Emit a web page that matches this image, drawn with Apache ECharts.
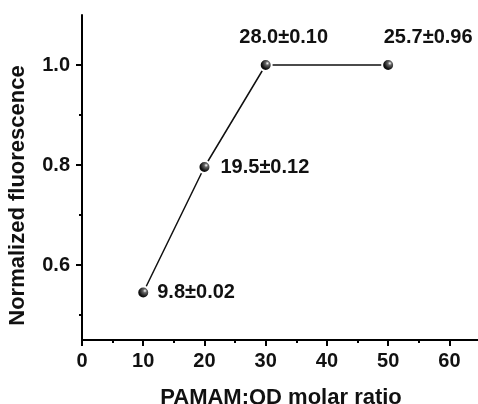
<!DOCTYPE html>
<html>
<head>
<meta charset="utf-8">
<script src="https://cdn.jsdelivr.net/npm/echarts@6/dist/echarts.min.js"></script>
<style>
  html, body { margin: 0; padding: 0; background: #fff; }
  #main { width: 478px; height: 404px; }
</style>
</head>
<body>
<div id="main"></div>
<script>
// data
var ratios = [10, 20, 30, 50];
var fluorescence = [0.545, 0.796, 1.0, 1.0];
var pointLabels = ['9.8±0.02', '19.5±0.12', '28.0±0.10', '25.7±0.96'];
var xMajorTicks = [0, 10, 20, 30, 40, 50, 60];
var xMinorTicks = [5, 15, 25, 35, 45, 55];
var yMajorTicks = [0.6, 0.8, 1.0];
var yMinorTicks = [0.5, 0.7, 0.9];

var FONT = '"Liberation Sans", Arial, sans-serif';

var sphere = {
  type: 'radial', x: 0.62, y: 0.38, r: 0.62,
  colorStops: [
    { offset: 0, color: '#ffffff' },
    { offset: 0.22, color: '#666666' },
    { offset: 0.65, color: '#111111' },
    { offset: 1, color: '#000000' }
  ]
};

// label placement per point (right, right, above, above)
var labelCfg = [
  { position: 'right', distance: 7 },
  { position: 'right', distance: 9 },
  { position: 'top', distance: 11, offset: [18, 0] },
  { position: 'top', distance: 11, offset: [40, 0] }
];

var seriesData = ratios.map(function (x, i) {
  return {
    value: [x, fluorescence[i]],
    label: Object.assign({
      show: true,
      formatter: pointLabels[i],
      color: '#111',
      fontFamily: FONT,
      fontWeight: 'bold',
      fontSize: 20
    }, labelCfg[i])
  };
});

var chart = echarts.init(document.getElementById('main'));

var baseX = {
  type: 'value', min: 0, max: 65,
  axisLine: { show: true, lineStyle: { color: '#000', width: 2 } },
  splitLine: { show: false }
};
var baseY = {
  type: 'value', min: 0.45, max: 1.1,
  axisLine: { show: true, lineStyle: { color: '#000', width: 2 } },
  splitLine: { show: false }
};

chart.setOption({
  animation: false,
  grid: { left: 82, top: 15, bottom: 64, width: 398, containLabel: false, outerBoundsMode: 'none' },
  xAxis: [
    Object.assign({}, baseX, {
      name: 'PAMAM:QD molar ratio',
      nameLocation: 'middle',
      nameGap: 47,
      nameMoveOverlap: false,
      nameTextStyle: { color: '#111', fontFamily: FONT, fontWeight: 'bold', fontSize: 22 },
      axisTick: { show: true, inside: false, length: 6, lineStyle: { color: '#000', width: 2 }, customValues: xMajorTicks },
      axisLabel: { show: true, color: '#111', fontFamily: FONT, fontWeight: 'bold', fontSize: 20, margin: 11, customValues: xMajorTicks }
    }),
    Object.assign({}, baseX, {
      position: 'bottom',
      axisLine: { show: false },
      axisTick: { show: true, inside: false, length: 3, lineStyle: { color: '#000', width: 2 }, customValues: xMinorTicks },
      axisLabel: { show: false }
    })
  ],
  yAxis: [
    Object.assign({}, baseY, {
      name: 'Normalized fluorescence',
      nameLocation: 'middle',
      nameGap: 53,
      nameMoveOverlap: false,
      // title sits a bit below the axis centre in the original
      nameTextStyle: { color: '#111', fontFamily: FONT, fontWeight: 'bold', fontSize: 22, padding: [0, 36, 0, 0] },
      axisTick: { show: true, inside: false, length: 6, lineStyle: { color: '#000', width: 2 }, customValues: yMajorTicks },
      axisLabel: {
        show: true, color: '#111', fontFamily: FONT, fontWeight: 'bold', fontSize: 20, margin: 12,
        customValues: yMajorTicks,
        formatter: function (v) { return v.toFixed(1); }
      }
    }),
    Object.assign({}, baseY, {
      position: 'left',
      axisLine: { show: false },
      axisTick: { show: true, inside: false, length: 3, lineStyle: { color: '#000', width: 2 }, customValues: yMinorTicks },
      axisLabel: { show: false }
    })
  ],
  series: [{
    type: 'line',
    xAxisIndex: 0,
    yAxisIndex: 0,
    data: seriesData,
    symbol: 'circle',
    symbolSize: 12,
    itemStyle: { color: sphere, borderColor: '#fff', borderWidth: 2 },
    lineStyle: { color: '#111', width: 1.5 }
  }]
});
</script>
</body>
</html>
